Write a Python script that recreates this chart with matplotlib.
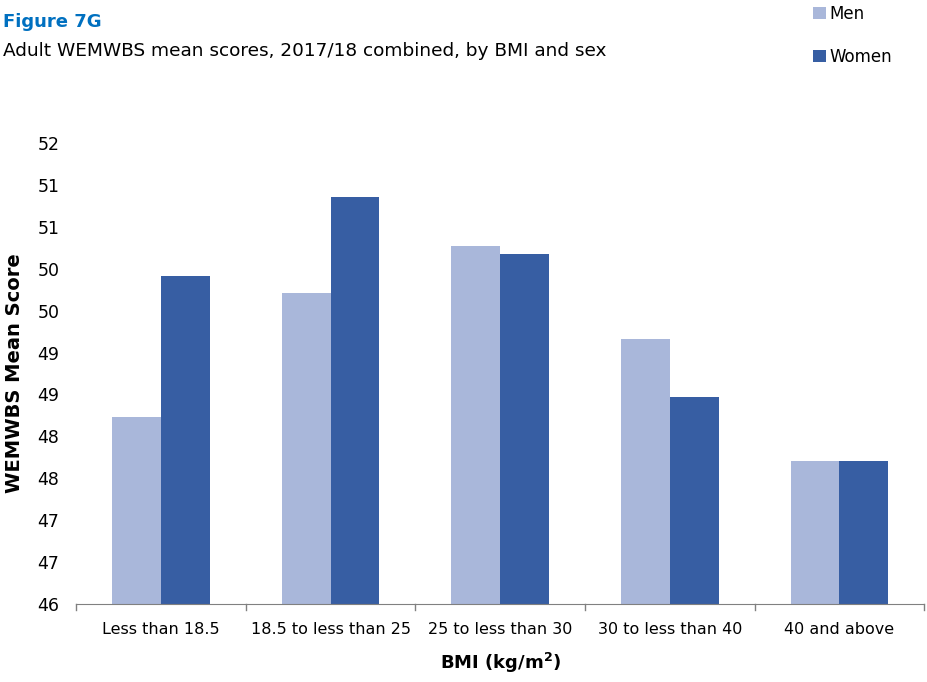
import matplotlib
matplotlib.use("Agg")
import matplotlib.pyplot as plt
import numpy as np
from matplotlib.ticker import FuncFormatter, MultipleLocator

# Data
categories = ["Less than 18.5", "18.5 to less than 25", "25 to less than 30",
              "30 to less than 40", "40 and above"]
men = [48.23, 49.71, 50.27, 49.16, 47.71]
women = [49.91, 50.86, 50.18, 48.47, 47.71]

men_color = "#A9B7DA"
women_color = "#375EA3"

plt.rcParams["font.family"] = ["DejaVu Sans"]

fig = plt.figure(figsize=(9.28, 6.82), dpi=100)
ax = fig.add_axes([0.082, 0.1144, 0.914, 0.676])

x = np.arange(len(categories))
w = 0.288
ax.bar(x - w / 2, men, width=w, color=men_color, label="Men")
ax.bar(x + w / 2, women, width=w, color=women_color, label="Women")

ax.set_ylim(46, 51.5)
ax.set_xlim(-0.5, len(categories) - 0.5)
ax.yaxis.set_major_locator(MultipleLocator(0.5))
# Excel-style rounding of the 0.5 steps to whole numbers
ax.yaxis.set_major_formatter(FuncFormatter(lambda v, p: "%d" % np.floor(v + 0.5)))
ax.tick_params(axis="y", length=0, labelsize=12.5, pad=12)

ax.set_xticks(x)
ax.set_xticklabels(categories, fontsize=11.5)
ax.tick_params(axis="x", length=0, pad=13)
# category boundary tick marks
for b in np.arange(-0.5, len(categories), 1.0):
    ax.plot([b, b], [0, -0.012], transform=ax.get_xaxis_transform(),
            color="#808080", lw=1, clip_on=False)

for s in ["top", "right", "left"]:
    ax.spines[s].set_visible(False)
ax.spines["bottom"].set_color("#808080")

ax.set_ylabel("WEMWBS Mean Score", fontsize=14, fontweight="bold")
ax.yaxis.set_label_coords(-0.062, 0.5)
ax.set_xlabel("BMI (kg/m$^\\mathbf{2}$)", fontsize=13, fontweight="bold", labelpad=10)

fig.text(0.003, 0.968, "Figure 7G", fontsize=13, fontweight="bold", color="#0070C0",
         va="center")
fig.text(0.003, 0.925, "Adult WEMWBS mean scores, 2017/18 combined, by BMI and sex",
         fontsize=13.3, va="center")

fig.legend(loc="upper left", bbox_to_anchor=(0.86, 1.015), frameon=False,
           fontsize=12, handlelength=0.75, handleheight=0.75, handletextpad=0.25,
           labelspacing=1.5)

fig.savefig("out.png", dpi=100)
